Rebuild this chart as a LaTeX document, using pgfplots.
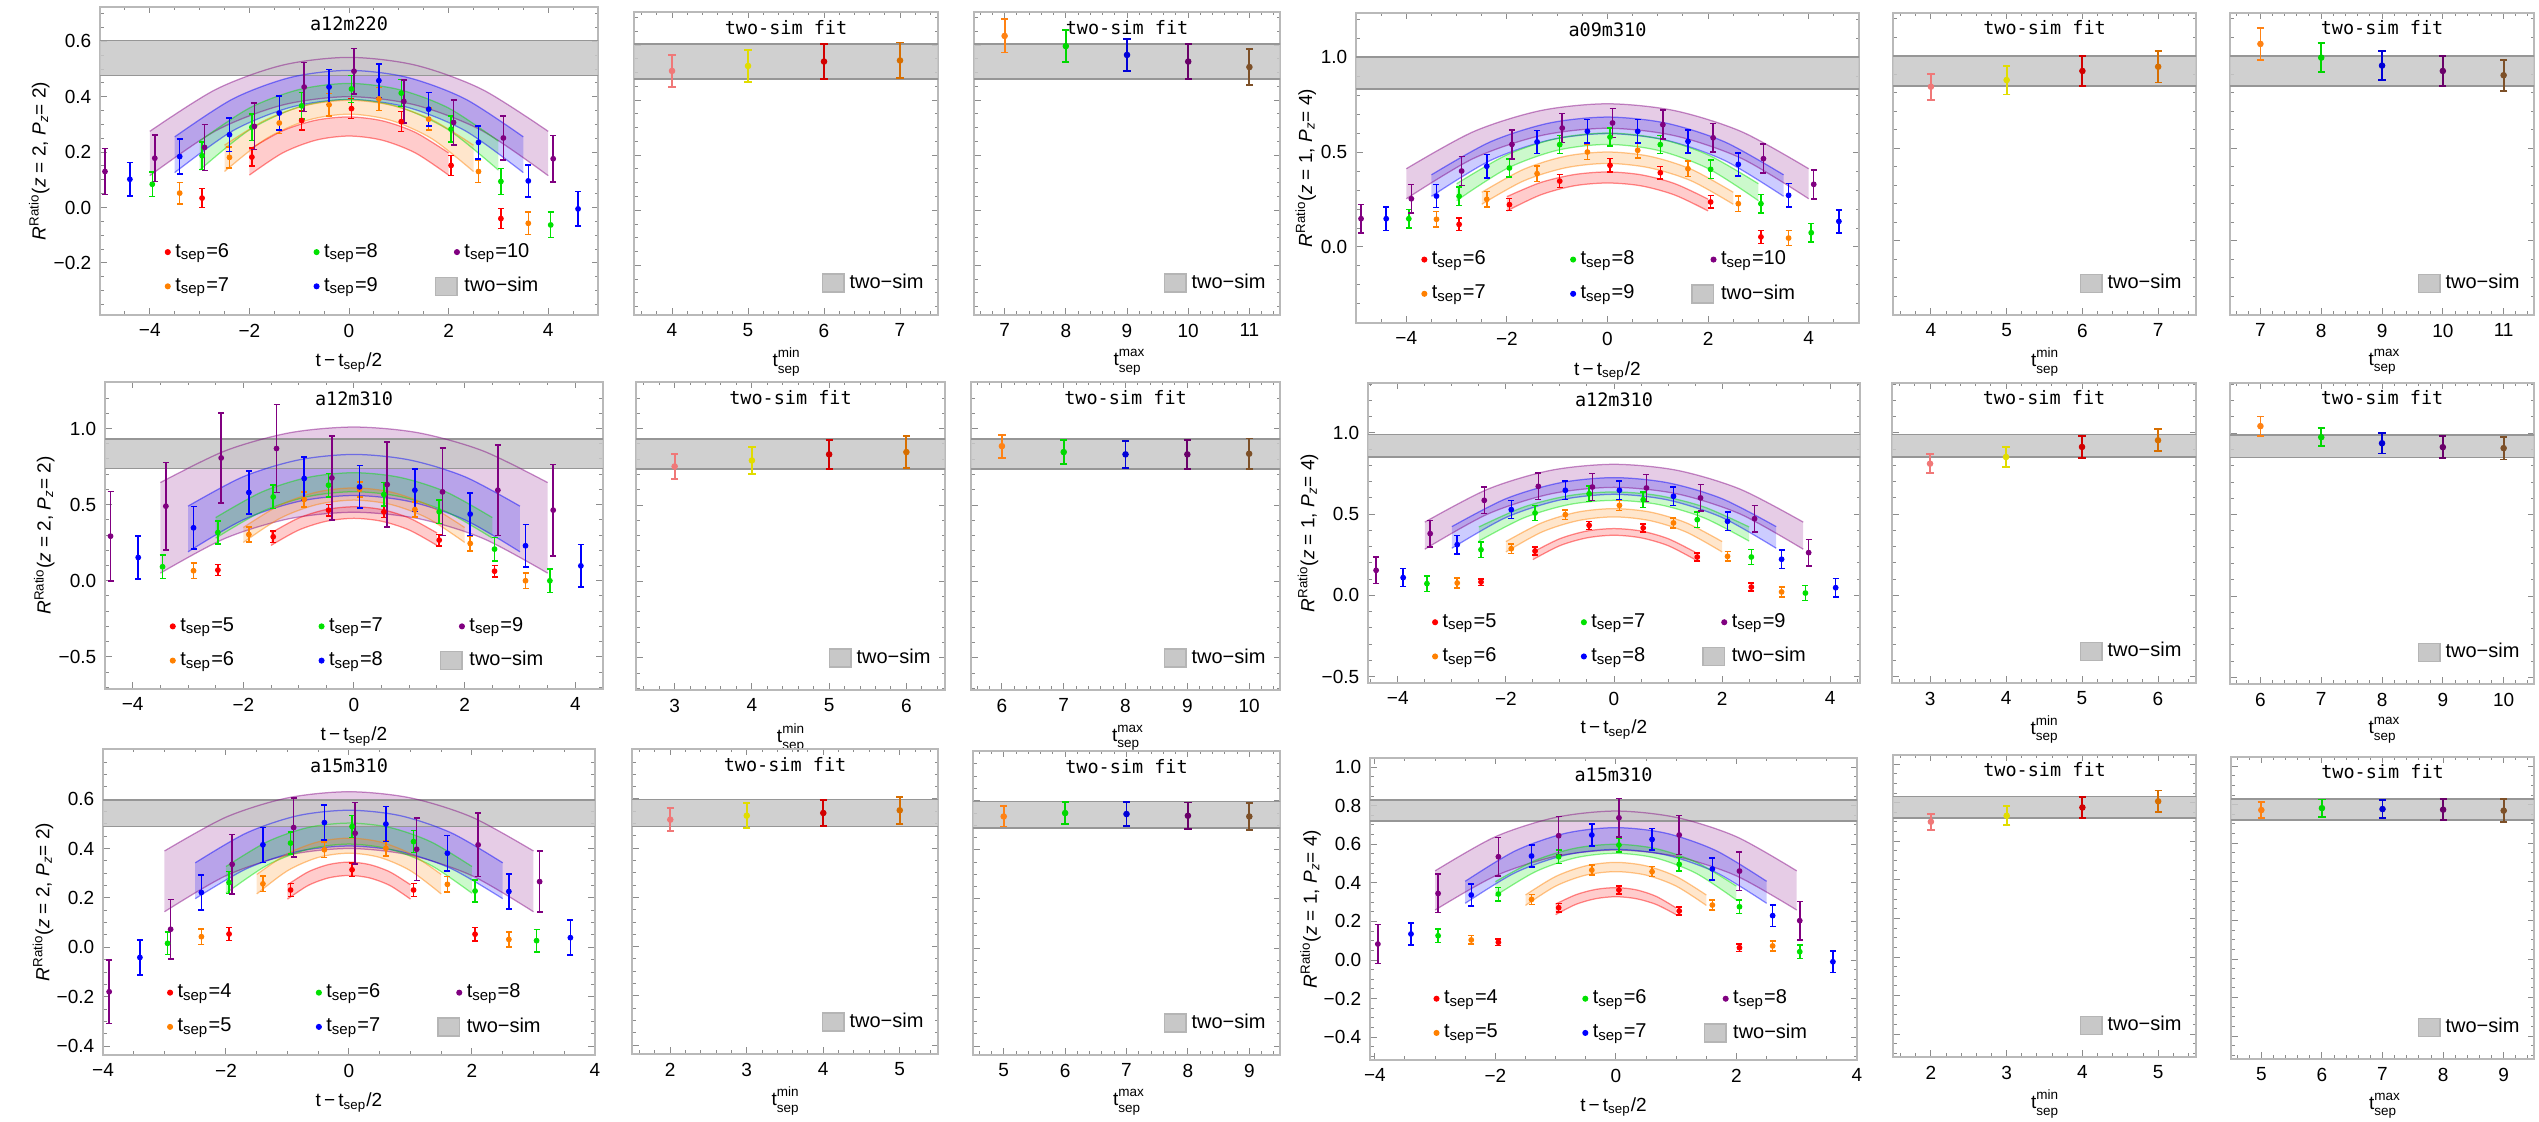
\documentclass[border=0pt]{standalone}
\usepackage{fontspec}
\setmainfont{Liberation Sans}
\setmonofont{DejaVu Sans Mono}
\usepackage{pgfplots}
\pgfplotsset{compat=1.18}
\usepgfplotslibrary{fillbetween}

\definecolor{mred}{RGB}{255,0,0}
\definecolor{morange}{RGB}{255,128,0}
\definecolor{mgreen}{RGB}{0,225,0}
\definecolor{mblue}{RGB}{0,0,255}
\definecolor{mpurple}{RGB}{128,0,128}
\definecolor{spink}{RGB}{240,120,120}
\definecolor{syellow}{RGB}{225,220,0}
\definecolor{sred}{RGB}{210,0,0}
\definecolor{sdorange}{RGB}{215,110,0}
\definecolor{sorange}{RGB}{255,130,20}
\definecolor{sgreen}{RGB}{0,215,0}
\definecolor{sblue}{RGB}{0,0,215}
\definecolor{spurple}{RGB}{105,0,105}
\definecolor{sbrown}{RGB}{125,80,40}
\definecolor{gfill}{RGB}{200,200,200}
\definecolor{gedge}{RGB}{150,150,150}
\definecolor{frame}{RGB}{185,185,185}

\newcommand{\fs}{\fontsize{7.6}{9}\selectfont}
\newcommand{\scs}{\fontsize{5.4}{6}\selectfont}
\newcommand{\xlab}{t\,−\,t\textsubscript{sep}/2}
\newcommand{\ylab}[2]{{\itshape R}\textsuperscript{Ratio}(\textit{z} = #1, \textit{P}\textsubscript{\textit{z}}= #2)}
\newcommand{\tmn}{t\rlap{\raisebox{3.6pt}{\scs min}}\raisebox{-2.7pt}{\scs sep}}
\newcommand{\tmx}{t\rlap{\raisebox{3.6pt}{\scs max}}\raisebox{-2.7pt}{\scs sep}}
\newcommand{\ptitle}[2]{\node[font=\ttfamily\fontsize{7.4}{8}\selectfont, anchor=center, inner sep=1pt] at (rel axis cs:0.5,#2) {#1};}

\pgfplotsset{
  base/.style={scale only axis, anchor=south west,
    axis line style={draw=frame, line width=0.5pt},
    tick style={draw=black!45, line width=0.4pt},
    tick align=inside, major tick length=2.6pt, minor tick length=1.4pt,
    /pgf/number format/assume math mode=true,
    ticklabel style={font=\fs},
    xlabel style={font=\fs, at={(axis description cs:0.5,-0.155)}, anchor=center},
    ylabel style={font=\fs, at={(axis description cs:-0.122,0.5)}, anchor=center},
    legend style={draw=none, fill=none, font=\fontsize{8}{9}\selectfont},
    legend cell align=left},
  mainlg/.style={legend columns=3, legend style={at={(0.115,0.267)}, anchor=north west, row sep=2.5pt,
     /tikz/column 2/.style={column sep=32pt}, /tikz/column 4/.style={column sep=20.8pt}}},
  sidelg/.style={legend style={at={(0.995,0.04)}, anchor=south east}},
  side/.style={base, sidelg, yticklabels={}},
  pt/.style={forget plot, only marks, mark=*, mark size=0.95pt,
    error bars/y dir=both, error bars/y explicit,
    error bars/error bar style={line width=0.6pt},
    error bars/error mark options={rotate=90, mark size=1.2pt, line width=0.6pt}},
  spt/.style={pt, mark size=1.1pt,
    error bars/error bar style={line width=0.75pt},
    error bars/error mark options={rotate=90, mark size=1.45pt, line width=0.75pt}},
  gbox/.style={legend image code/.code={\draw[fill=gfill, draw=gedge!70, line width=0.6pt] (0pt,-3.6pt) rectangle (8.6pt,3.6pt);}},
  lgdot/.style={only marks, mark=*, mark size=1pt},
  yA/.style={ytick={-0.2,0,0.2,0.4,0.6}, minor ytick={-0.35,-0.3,...,0.7}},
  yD/.style={ytick={0,0.5,1}, minor ytick={-0.4,-0.3,...,1.2}},
  yB/.style={ytick={-0.5,0,0.5,1}, minor ytick={-0.7,-0.6,...,1.3}},
  yC/.style={ytick={-0.4,-0.2,0,0.2,0.4,0.6}, minor ytick={-0.4,-0.35,...,0.8}},
  yF/.style={ytick={-0.4,-0.2,0,0.2,0.4,0.6,0.8,1.0}, minor ytick={-0.5,-0.45,...,1.0}},
}

\newcommand{\gband}[2]{\addplot[forget plot, fill=gfill, fill opacity=0.85, draw=gedge, line width=0.6pt] coordinates {(-20,#1) (20,#1) (20,#2) (-20,#2)} -- cycle;}
\newcommand{\band}[3]{%
 \addplot[forget plot, smooth, draw=#1, draw opacity=0.45, line width=0.5pt, name path=bu] coordinates {#2};
 \addplot[forget plot, smooth, draw=#1, draw opacity=0.45, line width=0.5pt, name path=bl] coordinates {#3};
 \addplot[forget plot, fill=#1, fill opacity=0.2, draw=none] fill between[of=bu and bl];}
\newcommand{\mlegend}[5]{%
 \addlegendimage{lgdot, mred}\addlegendentry{t\textsubscript{sep}=#1}
 \addlegendimage{lgdot, mgreen}\addlegendentry{t\textsubscript{sep}=#3}
 \addlegendimage{lgdot, mpurple}\addlegendentry{t\textsubscript{sep}=#5}
 \addlegendimage{lgdot, morange}\addlegendentry{t\textsubscript{sep}=#2}
 \addlegendimage{lgdot, mblue}\addlegendentry{t\textsubscript{sep}=#4}
 \addlegendimage{gbox}\addlegendentry{two−sim}}
\newcommand{\slegend}{\addlegendimage{gbox}\addlegendentry{two−sim}\ptitle{two-sim fit}{0.95}}

\begin{document}
\begin{tikzpicture}

%================ ROW 1 =================
\begin{axis}[base, mainlg, yA, at={(40pt,322.8pt)}, width=199.2pt, height=123.2pt,
  xmin=-5, xmax=5, ymin=-0.388, ymax=0.724,
  xtick={-4,-2,0,2,4}, xticklabels={−4,−2,0,2,4}, minor xtick={-5,-4.5,...,5},
  yticklabels={−0.2,0.0,0.2,0.4,0.6},
  xlabel={\xlab}, ylabel={\ylab{2}{2}}]
\gband{0.477}{0.603}
\band{mpurple}{(-4,0.275)(-2.667,0.427)(-1.333,0.514)(0,0.542)(1.333,0.514)(2.667,0.427)(4,0.275)}{(-4,0.115)(-2.667,0.278)(-1.333,0.370)(0,0.40)(1.333,0.370)(2.667,0.278)(4,0.115)}
\band{mblue}{(-3.5,0.255)(-2.333,0.392)(-1.167,0.470)(0,0.495)(1.167,0.470)(2.333,0.392)(3.5,0.255)}{(-3.5,0.126)(-2.333,0.277)(-1.167,0.362)(0,0.39)(1.167,0.362)(2.333,0.277)(3.5,0.126)}
\band{mgreen}{(-3,0.24)(-2,0.359)(-1,0.426)(0,0.448)(1,0.426)(2,0.359)(3,0.24)}{(-3,0.135)(-2,0.280)(-1,0.363)(0,0.39)(1,0.363)(2,0.280)(3,0.135)}
\band{morange}{(-2.5,0.225)(-1.667,0.317)(-0.833,0.370)(0,0.387)(0.833,0.370)(1.667,0.317)(2.5,0.225)}{(-2.5,0.13)(-1.667,0.248)(-0.833,0.315)(0,0.337)(0.833,0.315)(1.667,0.248)(2.5,0.13)}
\band{mred}{(-2,0.21)(-1.333,0.277)(-0.667,0.315)(0,0.327)(0.667,0.313)(1.333,0.271)(2,0.197)}{(-2,0.117)(-1.333,0.197)(-0.667,0.243)(0,0.258)(0.667,0.243)(1.333,0.197)(2,0.117)}
\addplot[pt, mred] coordinates {(-2.95,0.034)+-(0,0.034) (-1.95,0.182)+-(0,0.033) (-0.95,0.314)+-(0,0.034) (0.05,0.357)+-(0,0.036) (1.05,0.310)+-(0,0.036) (2.05,0.152)+-(0,0.036) (3.05,-0.040)+-(0,0.036)};
\addplot[pt, morange] coordinates {(-3.4,0.052)+-(0,0.039) (-2.4,0.181)+-(0,0.038) (-1.4,0.305)+-(0,0.038) (-0.4,0.371)+-(0,0.040) (0.6,0.392)+-(0,0.042) (1.6,0.319)+-(0,0.040) (2.6,0.130)+-(0,0.039) (3.6,-0.057)+-(0,0.040)};
\addplot[pt, mgreen] coordinates {(-3.95,0.084)+-(0,0.044) (-2.95,0.187)+-(0,0.049) (-1.95,0.290)+-(0,0.048) (-0.95,0.367)+-(0,0.048) (0.05,0.428)+-(0,0.049) (1.05,0.413)+-(0,0.049) (2.05,0.283)+-(0,0.047) (3.05,0.094)+-(0,0.047) (4.05,-0.063)+-(0,0.046)};
\addplot[pt, mblue] coordinates {(-4.4,0.102)+-(0,0.060) (-3.4,0.184)+-(0,0.063) (-2.4,0.263)+-(0,0.060) (-1.4,0.341)+-(0,0.062) (-0.4,0.435)+-(0,0.063) (0.6,0.458)+-(0,0.061) (1.6,0.355)+-(0,0.061) (2.6,0.235)+-(0,0.060) (3.6,0.096)+-(0,0.058) (4.6,-0.005)+-(0,0.062)};
\addplot[pt, mpurple] coordinates {(-4.9,0.130)+-(0,0.083) (-3.9,0.178)+-(0,0.084) (-2.9,0.217)+-(0,0.083) (-1.9,0.293)+-(0,0.084) (-0.9,0.435)+-(0,0.088) (0.1,0.492)+-(0,0.082) (1.1,0.383)+-(0,0.078) (2.1,0.307)+-(0,0.082) (3.1,0.251)+-(0,0.079) (4.1,0.176)+-(0,0.084)};
\mlegend{6}{7}{8}{9}{10}
\ptitle{a12m220}{0.945}
\end{axis}

\begin{axis}[side, yA, at={(253.6pt,322.8pt)}, width=121.6pt, height=121.2pt,
  xmin=3.5, xmax=7.5, ymin=-0.380, ymax=0.720,
  xtick={4,5,6,7}, minor xtick={3.6,3.8,...,7.4}, xlabel={\tmn}]
\gband{0.477}{0.603}
\addplot[spt, spink] coordinates {(4,0.506)+-(0,0.058)};
\addplot[spt, syellow] coordinates {(5,0.524)+-(0,0.058)};
\addplot[spt, sred] coordinates {(6,0.540)+-(0,0.063)};
\addplot[spt, sdorange] coordinates {(7,0.544)+-(0,0.065)};
\slegend
\end{axis}

\begin{axis}[side, yA, at={(389.6pt,322.8pt)}, width=122.4pt, height=121.2pt,
  xmin=6.5, xmax=11.5, ymin=-0.380, ymax=0.720,
  xtick={7,8,9,10,11}, minor xtick={6.6,6.8,...,11.4}, xlabel={\tmx}]
\gband{0.477}{0.603}
\addplot[spt, sorange] coordinates {(7,0.633)+-(0,0.060)};
\addplot[spt, sgreen] coordinates {(8,0.596)+-(0,0.059)};
\addplot[spt, sblue] coordinates {(9,0.564)+-(0,0.059)};
\addplot[spt, spurple] coordinates {(10,0.540)+-(0,0.063)};
\addplot[spt, sbrown] coordinates {(11,0.520)+-(0,0.065)};
\slegend
\end{axis}

\begin{axis}[base, mainlg, yD, at={(542.4pt,319.6pt)}, width=201.2pt, height=124pt,
  xmin=-5, xmax=5, ymin=-0.40, ymax=1.232,
  xtick={-4,-2,0,2,4}, xticklabels={−4,−2,0,2,4}, minor xtick={-5,-4.5,...,5},
  yticklabels={0.0,0.5,1.0},
  ylabel style={at={(axis description cs:-0.10,0.5)}},
  xlabel={\xlab}, ylabel={\ylab{1}{4}}]
\gband{0.833}{1.0}
\band{mpurple}{(-4,0.412)(-2.667,0.607)(-1.333,0.718)(0,0.754)(1.333,0.718)(2.667,0.607)(4,0.412)}{(-4,0.254)(-2.667,0.466)(-1.333,0.586)(0,0.625)(1.333,0.586)(2.667,0.466)(4,0.254)}
\band{mblue}{(-3.5,0.38)(-2.333,0.553)(-1.167,0.652)(0,0.684)(1.167,0.652)(2.333,0.553)(3.5,0.38)}{(-3.5,0.267)(-2.333,0.455)(-1.167,0.562)(0,0.597)(1.167,0.562)(2.333,0.455)(3.5,0.267)}
\band{mgreen}{(-3,0.333)(-2,0.485)(-1,0.572)(0,0.60)(1,0.572)(2,0.485)(3,0.333)}{(-3,0.244)(-2,0.413)(-1,0.509)(0,0.54)(1,0.509)(2,0.413)(3,0.244)}
\band{morange}{(-2.5,0.288)(-1.667,0.409)(-0.833,0.478)(0,0.50)(0.833,0.478)(1.667,0.409)(2.5,0.288)}{(-2.5,0.225)(-1.667,0.348)(-0.833,0.417)(0,0.44)(0.833,0.417)(1.667,0.348)(2.5,0.225)}
\band{mred}{(-2,0.265)(-1.333,0.339)(-0.667,0.381)(0,0.395)(0.667,0.380)(1.333,0.334)(2,0.252)}{(-2,0.19)(-1.333,0.274)(-0.667,0.322)(0,0.337)(0.667,0.322)(1.333,0.274)(2,0.19)}
\addplot[pt, mred] coordinates {(-2.95,0.119)+-(0,0.033) (-1.95,0.223)+-(0,0.032) (-0.95,0.347)+-(0,0.034) (0.05,0.430)+-(0,0.035) (1.05,0.391)+-(0,0.034) (2.05,0.237)+-(0,0.033) (3.05,0.053)+-(0,0.035)};
\addplot[pt, morange] coordinates {(-3.4,0.146)+-(0,0.04) (-2.4,0.251)+-(0,0.04) (-1.4,0.386)+-(0,0.04) (-0.4,0.500)+-(0,0.04) (0.6,0.509)+-(0,0.04) (1.6,0.412)+-(0,0.04) (2.6,0.228)+-(0,0.04) (3.6,0.047)+-(0,0.04)};
\addplot[pt, mgreen] coordinates {(-3.95,0.149)+-(0,0.048) (-2.95,0.267)+-(0,0.048) (-1.95,0.416)+-(0,0.048) (-0.95,0.539)+-(0,0.048) (0.05,0.579)+-(0,0.048) (1.05,0.539)+-(0,0.048) (2.05,0.409)+-(0,0.048) (3.05,0.228)+-(0,0.048) (4.05,0.075)+-(0,0.048)};
\addplot[pt, mblue] coordinates {(-4.4,0.149)+-(0,0.061) (-3.4,0.268)+-(0,0.061) (-2.4,0.425)+-(0,0.061) (-1.4,0.553)+-(0,0.061) (-0.4,0.609)+-(0,0.061) (0.6,0.609)+-(0,0.061) (1.6,0.556)+-(0,0.061) (2.6,0.435)+-(0,0.061) (3.6,0.272)+-(0,0.061) (4.6,0.135)+-(0,0.061)};
\addplot[pt, mpurple] coordinates {(-4.9,0.149)+-(0,0.076) (-3.9,0.254)+-(0,0.076) (-2.9,0.400)+-(0,0.076) (-1.9,0.540)+-(0,0.076) (-0.9,0.626)+-(0,0.076) (0.1,0.653)+-(0,0.076) (1.1,0.644)+-(0,0.076) (2.1,0.575)+-(0,0.076) (3.1,0.465)+-(0,0.076) (4.1,0.330)+-(0,0.076)};
\mlegend{6}{7}{8}{9}{10}
\ptitle{a09m310}{0.945}
\end{axis}

\begin{axis}[side, yD, at={(757.2pt,322.8pt)}, width=121.2pt, height=120.8pt,
  xmin=3.5, xmax=7.5, ymin=-0.40, ymax=1.23,
  xtick={4,5,6,7}, minor xtick={3.6,3.8,...,7.4}, xlabel={\tmn}]
\gband{0.835}{0.998}
\addplot[spt, spink] coordinates {(4,0.832)+-(0,0.070)};
\addplot[spt, syellow] coordinates {(5,0.868)+-(0,0.078)};
\addplot[spt, sred] coordinates {(6,0.917)+-(0,0.081)};
\addplot[spt, sdorange] coordinates {(7,0.940)+-(0,0.085)};
\slegend
\end{axis}

\begin{axis}[side, yD, at={(892pt,322.8pt)}, width=121.6pt, height=120.8pt,
  xmin=6.5, xmax=11.5, ymin=-0.40, ymax=1.23,
  xtick={7,8,9,10,11}, minor xtick={6.6,6.8,...,11.4}, xlabel={\tmx}]
\gband{0.835}{0.998}
\addplot[spt, sorange] coordinates {(7,1.063)+-(0,0.086)};
\addplot[spt, sgreen] coordinates {(8,0.989)+-(0,0.079)};
\addplot[spt, sblue] coordinates {(9,0.946)+-(0,0.078)};
\addplot[spt, spurple] coordinates {(10,0.917)+-(0,0.081)};
\addplot[spt, sbrown] coordinates {(11,0.894)+-(0,0.083)};
\slegend
\end{axis}

%================ ROW 2 =================
\begin{axis}[base, mainlg, yB, at={(42pt,173.2pt)}, width=199.2pt, height=122.8pt,
  xmin=-4.5, xmax=4.5, ymin=-0.711, ymax=1.306,
  xtick={-4,-2,0,2,4}, xticklabels={−4,−2,0,2,4}, minor xtick={-4.5,-4,...,4.5},
  yticklabels={−0.5,0.0,0.5,1.0},
  xlabel={\xlab}, ylabel={\ylab{2}{2}}]
\gband{0.737}{0.932}
\band{mpurple}{(-3.5,0.645)(-2.333,0.853)(-1.167,0.972)(0,1.01)(1.167,0.972)(2.333,0.853)(3.5,0.645)}{(-3.5,0.05)(-2.333,0.278)(-1.167,0.408)(0,0.45)(1.167,0.408)(2.333,0.278)(3.5,0.05)}
\band{mblue}{(-3,0.49)(-2,0.684)(-1,0.794)(0,0.83)(1,0.794)(2,0.684)(3,0.49)}{(-3,0.19)(-2,0.401)(-1,0.521)(0,0.56)(1,0.521)(2,0.401)(3,0.19)}
\band{mgreen}{(-2.5,0.415)(-1.667,0.583)(-0.833,0.679)(0,0.71)(0.833,0.679)(1.667,0.583)(2.5,0.415)}{(-2.5,0.28)(-1.667,0.454)(-0.833,0.553)(0,0.585)(0.833,0.553)(1.667,0.454)(2.5,0.28)}
\band{morange}{(-2,0.35)(-1.333,0.498)(-0.667,0.583)(0,0.61)(0.667,0.583)(1.333,0.498)(2,0.35)}{(-2,0.252)(-1.333,0.411)(-0.667,0.501)(0,0.53)(0.667,0.501)(1.333,0.411)(2,0.252)}
\band{mred}{(-1.5,0.314)(-1,0.412)(-0.5,0.468)(0,0.486)(0.5,0.468)(1,0.412)(1.5,0.314)}{(-1.5,0.232)(-1,0.333)(-0.5,0.391)(0,0.41)(0.5,0.391)(1,0.333)(1.5,0.232)}
\addplot[pt, mred] coordinates {(-2.46,0.070)+-(0,0.037) (-1.46,0.289)+-(0,0.037) (-0.46,0.464)+-(0,0.037) (0.54,0.453)+-(0,0.037) (1.54,0.267)+-(0,0.037) (2.54,0.063)+-(0,0.037)};
\addplot[pt, morange] coordinates {(-2.9,0.066)+-(0,0.05) (-1.9,0.304)+-(0,0.05) (-0.9,0.534)+-(0,0.05) (0.1,0.600)+-(0,0.05) (1.1,0.468)+-(0,0.05) (2.1,0.245)+-(0,0.05) (3.1,0.0)+-(0,0.05)};
\addplot[pt, mgreen] coordinates {(-3.46,0.092)+-(0,0.077) (-2.46,0.317)+-(0,0.077) (-1.46,0.551)+-(0,0.077) (-0.46,0.628)+-(0,0.077) (0.54,0.567)+-(0,0.077) (1.54,0.453)+-(0,0.077) (2.54,0.208)+-(0,0.077) (3.54,0.0)+-(0,0.077)};
\addplot[pt, mblue] coordinates {(-3.9,0.153)+-(0,0.14) (-2.9,0.348)+-(0,0.14) (-1.9,0.580)+-(0,0.14) (-0.9,0.672)+-(0,0.14) (0.1,0.617)+-(0,0.14) (1.1,0.595)+-(0,0.14) (2.1,0.438)+-(0,0.14) (3.1,0.230)+-(0,0.14) (4.1,0.098)+-(0,0.14)};
\addplot[pt, mpurple] coordinates {(-4.4,0.293)+-(0,0.295) (-3.4,0.490)+-(0,0.288) (-2.4,0.807)+-(0,0.295) (-1.4,0.869)+-(0,0.289) (-0.4,0.676)+-(0,0.276) (0.6,0.632)+-(0,0.279) (1.6,0.584)+-(0,0.287) (2.6,0.595)+-(0,0.296) (3.6,0.464)+-(0,0.30)};
\mlegend{5}{6}{7}{8}{9}
\ptitle{a12m310}{0.945}
\end{axis}

\begin{axis}[side, yB, at={(254.4pt,172.8pt)}, width=123.6pt, height=123.2pt,
  xmin=2.5, xmax=6.5, ymin=-0.711, ymax=1.306,
  xtick={3,4,5,6}, minor xtick={2.6,2.8,...,6.4}, xlabel={\tmn}]
\gband{0.737}{0.932}
\addplot[spt, spink] coordinates {(3,0.753)+-(0,0.082)};
\addplot[spt, syellow] coordinates {(4,0.792)+-(0,0.091)};
\addplot[spt, sred] coordinates {(5,0.832)+-(0,0.096)};
\addplot[spt, sdorange] coordinates {(6,0.847)+-(0,0.107)};
\slegend
\end{axis}

\begin{axis}[side, yB, at={(388.4pt,172.8pt)}, width=123.6pt, height=123.2pt,
  xmin=5.5, xmax=10.5, ymin=-0.711, ymax=1.306,
  xtick={6,7,8,9,10}, minor xtick={5.6,5.8,...,10.4}, xlabel={\tmx}]
\gband{0.737}{0.932}
\addplot[spt, sorange] coordinates {(6,0.886)+-(0,0.075)};
\addplot[spt, sgreen] coordinates {(7,0.847)+-(0,0.079)};
\addplot[spt, sblue] coordinates {(8,0.832)+-(0,0.090)};
\addplot[spt, spurple] coordinates {(9,0.832)+-(0,0.095)};
\addplot[spt, sbrown] coordinates {(10,0.836)+-(0,0.100)};
\slegend
\end{axis}

\begin{axis}[base, mainlg, yB, at={(547.2pt,175.6pt)}, width=196.8pt, height=120pt,
  xmin=-4.55, xmax=4.55, ymin=-0.54, ymax=1.308,
  xtick={-4,-2,0,2,4}, xticklabels={−4,−2,0,2,4}, minor xtick={-4.5,-4,...,4.5},
  yticklabels={−0.5,0.0,0.5,1.0},
  xlabel={\xlab}, ylabel={\ylab{1}{4}}]
\gband{0.852}{0.99}
\band{mpurple}{(-3.5,0.451)(-2.333,0.654)(-1.167,0.770)(0,0.807)(1.167,0.770)(2.333,0.654)(3.5,0.451)}{(-3.5,0.284)(-2.333,0.501)(-1.167,0.625)(0,0.665)(1.167,0.625)(2.333,0.501)(3.5,0.284)}
\band{mblue}{(-3,0.423)(-2,0.595)(-1,0.693)(0,0.725)(1,0.693)(2,0.595)(3,0.423)}{(-3,0.29)(-2,0.479)(-1,0.587)(0,0.622)(1,0.587)(2,0.479)(3,0.29)}
\band{mgreen}{(-2.5,0.421)(-1.667,0.544)(-0.833,0.614)(0,0.637)(0.833,0.614)(1.667,0.544)(2.5,0.421)}{(-2.5,0.334)(-1.667,0.477)(-0.833,0.559)(0,0.585)(0.833,0.559)(1.667,0.477)(2.5,0.334)}
\band{morange}{(-2,0.331)(-1.333,0.447)(-0.667,0.513)(0,0.534)(0.667,0.513)(1.333,0.447)(2,0.331)}{(-2,0.267)(-1.333,0.39)(-0.667,0.46)(0,0.483)(0.667,0.46)(1.333,0.39)(2,0.267)}
\band{mred}{(-1.5,0.266)(-1,0.349)(-0.5,0.396)(0,0.411)(0.5,0.396)(1,0.349)(1.5,0.266)}{(-1.5,0.22)(-1,0.306)(-0.5,0.354)(0,0.37)(0.5,0.354)(1,0.306)(1.5,0.22)}
\addplot[pt, mred] coordinates {(-2.46,0.082)+-(0,0.02) (-1.46,0.273)+-(0,0.024) (-0.46,0.431)+-(0,0.025) (0.54,0.415)+-(0,0.025) (1.54,0.236)+-(0,0.024) (2.54,0.051)+-(0,0.025)};
\addplot[pt, morange] coordinates {(-2.9,0.076)+-(0,0.03) (-1.9,0.287)+-(0,0.03) (-0.9,0.497)+-(0,0.03) (0.1,0.554)+-(0,0.03) (1.1,0.446)+-(0,0.03) (2.1,0.240)+-(0,0.03) (3.1,0.021)+-(0,0.03)};
\addplot[pt, mgreen] coordinates {(-3.46,0.072)+-(0,0.047) (-2.46,0.281)+-(0,0.047) (-1.46,0.507)+-(0,0.047) (-0.46,0.626)+-(0,0.047) (0.54,0.589)+-(0,0.047) (1.54,0.466)+-(0,0.047) (2.54,0.236)+-(0,0.047) (3.54,0.014)+-(0,0.047)};
\addplot[pt, mblue] coordinates {(-3.9,0.109)+-(0,0.056) (-2.9,0.312)+-(0,0.056) (-1.9,0.528)+-(0,0.056) (-0.9,0.647)+-(0,0.056) (0.1,0.647)+-(0,0.056) (1.1,0.610)+-(0,0.056) (2.1,0.456)+-(0,0.056) (3.1,0.222)+-(0,0.056) (4.1,0.047)+-(0,0.056)};
\addplot[pt, mpurple] coordinates {(-4.4,0.154)+-(0,0.082) (-3.4,0.380)+-(0,0.082) (-2.4,0.585)+-(0,0.082) (-1.4,0.671)+-(0,0.082) (-0.4,0.667)+-(0,0.082) (0.6,0.661)+-(0,0.082) (1.6,0.600)+-(0,0.082) (2.6,0.472)+-(0,0.082) (3.6,0.263)+-(0,0.082)};
\mlegend{5}{6}{7}{8}{9}
\ptitle{a12m310}{0.945}
\end{axis}

\begin{axis}[side, yB, at={(756.8pt,175.6pt)}, width=121.6pt, height=120pt,
  xmin=2.5, xmax=6.5, ymin=-0.54, ymax=1.308,
  xtick={3,4,5,6}, minor xtick={2.6,2.8,...,6.4}, xlabel={\tmn}]
\gband{0.852}{0.99}
\addplot[spt, spink] coordinates {(3,0.811)+-(0,0.057)};
\addplot[spt, syellow] coordinates {(4,0.852)+-(0,0.062)};
\addplot[spt, sred] coordinates {(5,0.914)+-(0,0.066)};
\addplot[spt, sdorange] coordinates {(6,0.955)+-(0,0.068)};
\slegend
\end{axis}

\begin{axis}[side, yB, at={(892pt,175.2pt)}, width=121.6pt, height=120.4pt,
  xmin=5.5, xmax=10.5, ymin=-0.54, ymax=1.308,
  xtick={6,7,8,9,10}, minor xtick={5.6,5.8,...,10.4}, xlabel={\tmx}]
\gband{0.852}{0.99}
\addplot[spt, sorange] coordinates {(6,1.043)+-(0,0.059)};
\addplot[spt, sgreen] coordinates {(7,0.975)+-(0,0.056)};
\addplot[spt, sblue] coordinates {(8,0.938)+-(0,0.063)};
\addplot[spt, spurple] coordinates {(9,0.914)+-(0,0.066)};
\addplot[spt, sbrown] coordinates {(10,0.908)+-(0,0.070)};
\slegend
\end{axis}

%================ ROW 3 =================
\begin{axis}[base, mainlg, yC, at={(41.2pt,26.8pt)}, width=196.8pt, height=122.4pt,
  xmin=-4, xmax=4, ymin=-0.436, ymax=0.803,
  xtick={-4,-2,0,2,4}, xticklabels={−4,−2,0,2,4}, minor xtick={-4,-3.5,...,4},
  yticklabels={−0.4,−0.2,0.0,0.2,0.4,0.6},
  xlabel={\xlab}, ylabel={\ylab{2}{2}}]
\gband{0.489}{0.597}
\band{mpurple}{(-3,0.39)(-2,0.527)(-1,0.605)(0,0.63)(1,0.605)(2,0.527)(3,0.39)}{(-3,0.144)(-2,0.29)(-1,0.373)(0,0.40)(1,0.373)(2,0.29)(3,0.144)}
\band{mblue}{(-2.5,0.342)(-1.667,0.463)(-0.833,0.533)(0,0.555)(0.833,0.533)(1.667,0.463)(2.5,0.342)}{(-2.5,0.197)(-1.667,0.318)(-0.833,0.388)(0,0.41)(0.833,0.388)(1.667,0.318)(2.5,0.197)}
\band{mgreen}{(-2,0.327)(-1.333,0.427)(-0.667,0.485)(0,0.503)(0.667,0.485)(1.333,0.427)(2,0.327)}{(-2,0.219)(-1.333,0.332)(-0.667,0.397)(0,0.418)(0.667,0.397)(1.333,0.332)(2,0.219)}
\band{morange}{(-1.5,0.295)(-1,0.379)(-0.5,0.427)(0,0.442)(0.5,0.427)(1,0.379)(1.5,0.295)}{(-1.5,0.216)(-1,0.31)(-0.5,0.364)(0,0.381)(0.5,0.364)(1,0.31)(1.5,0.216)}
\band{mred}{(-1,0.253)(-0.667,0.305)(-0.333,0.335)(0,0.345)(0.333,0.335)(0.667,0.305)(1,0.253)}{(-1,0.195)(-0.667,0.25)(-0.333,0.281)(0,0.291)(0.333,0.281)(0.667,0.25)(1,0.195)}
\addplot[pt, mred] coordinates {(-1.95,0.054)+-(0,0.027) (-0.95,0.232)+-(0,0.027) (0.05,0.314)+-(0,0.027) (1.05,0.232)+-(0,0.027) (2.05,0.053)+-(0,0.027)};
\addplot[pt, morange] coordinates {(-2.4,0.043)+-(0,0.031) (-1.4,0.257)+-(0,0.031) (-0.4,0.395)+-(0,0.031) (0.6,0.401)+-(0,0.031) (1.6,0.255)+-(0,0.031) (2.6,0.032)+-(0,0.031)};
\addplot[pt, mgreen] coordinates {(-2.95,0.016)+-(0,0.045) (-1.95,0.262)+-(0,0.045) (-0.95,0.422)+-(0,0.045) (0.05,0.489)+-(0,0.045) (1.05,0.428)+-(0,0.045) (2.05,0.228)+-(0,0.045) (3.05,0.027)+-(0,0.045)};
\addplot[pt, mblue] coordinates {(-3.4,-0.041)+-(0,0.071) (-2.4,0.222)+-(0,0.071) (-1.4,0.415)+-(0,0.071) (-0.4,0.505)+-(0,0.071) (0.6,0.499)+-(0,0.071) (1.6,0.381)+-(0,0.071) (2.6,0.226)+-(0,0.071) (3.6,0.039)+-(0,0.071)};
\addplot[pt, mpurple] coordinates {(-3.9,-0.180)+-(0,0.128) (-2.9,0.073)+-(0,0.12) (-1.9,0.336)+-(0,0.12) (-0.9,0.485)+-(0,0.12) (0.1,0.462)+-(0,0.125) (1.1,0.397)+-(0,0.126) (2.1,0.415)+-(0,0.128) (3.1,0.266)+-(0,0.124)};
\mlegend{4}{5}{6}{7}{8}
\ptitle{a15m310}{0.945}
\end{axis}

\begin{axis}[side, yC, at={(252.8pt,27.2pt)}, width=122.4pt, height=122pt,
  xmin=1.5, xmax=5.5, ymin=-0.436, ymax=0.803,
  xtick={2,3,4,5}, minor xtick={1.6,1.8,...,5.4}, xlabel={\tmn}]
\gband{0.489}{0.597}
\addplot[spt, spink] coordinates {(2,0.516)+-(0,0.046)};
\addplot[spt, syellow] coordinates {(3,0.532)+-(0,0.050)};
\addplot[spt, sred] coordinates {(4,0.543)+-(0,0.054)};
\addplot[spt, sdorange] coordinates {(5,0.554)+-(0,0.054)};
\slegend
\end{axis}

\begin{axis}[side, yC, at={(389.2pt,26.8pt)}, width=122.8pt, height=121.6pt,
  xmin=4.5, xmax=9.5, ymin=-0.436, ymax=0.803,
  xtick={5,6,7,8,9}, minor xtick={4.6,4.8,...,9.4}, xlabel={\tmx}]
\gband{0.489}{0.597}
\addplot[spt, sorange] coordinates {(5,0.536)+-(0,0.041)};
\addplot[spt, sgreen] coordinates {(6,0.550)+-(0,0.044)};
\addplot[spt, sblue] coordinates {(7,0.546)+-(0,0.048)};
\addplot[spt, spurple] coordinates {(8,0.539)+-(0,0.054)};
\addplot[spt, sbrown] coordinates {(9,0.536)+-(0,0.056)};
\slegend
\end{axis}

\begin{axis}[base, mainlg, yF, at={(548pt,24.8pt)}, width=194.8pt, height=120.8pt,
  xmin=-4.08, xmax=4.0, ymin=-0.518, ymax=1.047,
  xtick={-4,-2,0,2,4}, xticklabels={−4,−2,0,2,4}, minor xtick={-4,-3.5,...,4},
  yticklabels={−0.4,−0.2,0.0,0.2,0.4,0.6,0.8,1.0},
  xlabel={\xlab}, ylabel={\ylab{1}{4}}]
\gband{0.72}{0.829}
\band{mpurple}{(-3,0.462)(-2,0.639)(-1,0.739)(0,0.772)(1,0.739)(2,0.639)(3,0.462)}{(-3,0.259)(-2,0.436)(-1,0.537)(0,0.57)(1,0.537)(2,0.436)(3,0.259)}
\band{mblue}{(-2.5,0.408)(-1.667,0.566)(-0.833,0.657)(0,0.686)(0.833,0.657)(1.667,0.566)(2.5,0.408)}{(-2.5,0.294)(-1.667,0.453)(-0.833,0.544)(0,0.573)(0.833,0.544)(1.667,0.453)(2.5,0.294)}
\band{mgreen}{(-2,0.406)(-1.333,0.517)(-0.667,0.580)(0,0.60)(0.667,0.577)(1.333,0.507)(2,0.383)}{(-2,0.333)(-1.333,0.458)(-0.667,0.530)(0,0.553)(0.667,0.528)(1.333,0.449)(2,0.311)}
\band{morange}{(-1.5,0.337)(-1,0.433)(-0.5,0.488)(0,0.506)(0.5,0.488)(1,0.433)(1.5,0.337)}{(-1.5,0.283)(-1,0.383)(-0.5,0.44)(0,0.458)(0.5,0.44)(1,0.383)(1.5,0.283)}
\band{mred}{(-1,0.29)(-0.667,0.338)(-0.333,0.366)(0,0.375)(0.333,0.364)(0.667,0.330)(1,0.27)}{(-1,0.235)(-0.667,0.288)(-0.333,0.318)(0,0.328)(0.333,0.318)(0.667,0.288)(1,0.235)}
\addplot[pt, mred] coordinates {(-1.95,0.092)+-(0,0.018) (-0.95,0.271)+-(0,0.021) (0.05,0.363)+-(0,0.021) (1.05,0.254)+-(0,0.021) (2.05,0.064)+-(0,0.02)};
\addplot[pt, morange] coordinates {(-2.4,0.104)+-(0,0.022) (-1.4,0.314)+-(0,0.026) (-0.4,0.466)+-(0,0.026) (0.6,0.458)+-(0,0.026) (1.6,0.285)+-(0,0.026) (2.6,0.073)+-(0,0.026)};
\addplot[pt, mgreen] coordinates {(-2.95,0.126)+-(0,0.035) (-1.95,0.342)+-(0,0.035) (-0.95,0.535)+-(0,0.035) (0.05,0.596)+-(0,0.035) (1.05,0.496)+-(0,0.035) (2.05,0.276)+-(0,0.035) (3.05,0.043)+-(0,0.035)};
\addplot[pt, mblue] coordinates {(-3.4,0.135)+-(0,0.056) (-2.4,0.337)+-(0,0.056) (-1.4,0.539)+-(0,0.056) (-0.4,0.648)+-(0,0.056) (0.6,0.625)+-(0,0.056) (1.6,0.472)+-(0,0.056) (2.6,0.230)+-(0,0.056) (3.6,-0.009)+-(0,0.056)};
\addplot[pt, mpurple] coordinates {(-3.95,0.083)+-(0,0.1) (-2.95,0.345)+-(0,0.1) (-1.95,0.535)+-(0,0.1) (-0.95,0.644)+-(0,0.1) (0.05,0.737)+-(0,0.1) (1.05,0.648)+-(0,0.1) (2.05,0.461)+-(0,0.1) (3.05,0.204)+-(0,0.1)};
\mlegend{4}{5}{6}{7}{8}
\ptitle{a15m310}{0.945}
\end{axis}

\begin{axis}[side, yF, at={(757.2pt,26pt)}, width=121.2pt, height=120.8pt,
  xmin=1.5, xmax=5.5, ymin=-0.518, ymax=1.047,
  xtick={2,3,4,5}, minor xtick={1.6,1.8,...,5.4}, xlabel={\tmn}]
\gband{0.72}{0.831}
\addplot[spt, spink] coordinates {(2,0.701)+-(0,0.042)};
\addplot[spt, syellow] coordinates {(3,0.732)+-(0,0.050)};
\addplot[spt, sred] coordinates {(4,0.775)+-(0,0.056)};
\addplot[spt, sdorange] coordinates {(5,0.807)+-(0,0.056)};
\slegend
\end{axis}

\begin{axis}[side, yF, at={(892.4pt,25.2pt)}, width=121.2pt, height=120.8pt,
  xmin=4.5, xmax=9.5, ymin=-0.518, ymax=1.047,
  xtick={5,6,7,8,9}, minor xtick={4.6,4.8,...,9.4}, xlabel={\tmx}]
\gband{0.72}{0.829}
\addplot[spt, sorange] coordinates {(5,0.772)+-(0,0.041)};
\addplot[spt, sgreen] coordinates {(6,0.782)+-(0,0.045)};
\addplot[spt, sblue] coordinates {(7,0.777)+-(0,0.048)};
\addplot[spt, spurple] coordinates {(8,0.774)+-(0,0.055)};
\addplot[spt, sbrown] coordinates {(9,0.769)+-(0,0.059)};
\slegend
\end{axis}

\pgfresetboundingbox
\path[use as bounding box] (0,0) rectangle (1015.6pt,448.8pt);
\end{tikzpicture}
\end{document}
